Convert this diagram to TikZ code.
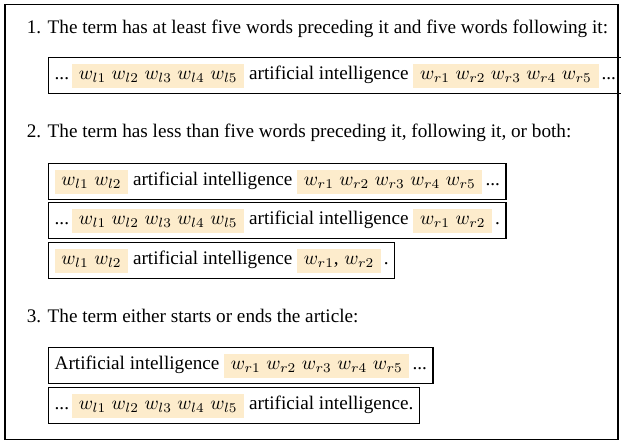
\documentclass[tikz,border=0pt]{standalone}
\usepackage{fontspec}
\setmainfont{Liberation Serif}
\usepackage{xcolor}
\definecolor{hlc}{RGB}{253,236,204}
\newcommand\hlbox[1]{{\setlength{\fboxsep}{0pt}\colorbox{hlc}{\rule[-4.2pt]{0pt}{12.5pt}\hspace{3.5pt}#1\hspace{3.5pt}}}}
\newcommand\ws{\hspace{2.9pt}}
\newcommand\dotsgap{\hspace{1.6pt}}
\tikzset{
  frame/.style={draw, line width=0.6pt},
  sample/.style={draw, line width=0.75pt, anchor=north west, inner xsep=3.1pt, inner ysep=3.1pt, text height=8.3pt, text depth=4.2pt},
  heading/.style={anchor=base west, inner sep=0pt},
}
\begin{document}
\begin{tikzpicture}[x=0.5208pt, y=-0.5208pt, font=\fontsize{10pt}{12pt}\selectfont]
\useasboundingbox (0,0) rectangle (621,441);
\draw[frame] (5,4.5) rectangle (618,439.5);
\node[heading] (h1) at (26.5,33.3) {1. The term has at least five words preceding it and five words following it:};
\node[sample] (b1) at (48,57) {...\dotsgap\hlbox{$w_{l1}$\ws$w_{l2}$\ws$w_{l3}$\ws$w_{l4}$\ws$w_{l5}$} artificial intelligence \hlbox{$w_{r1}$\ws$w_{r2}$\ws$w_{r3}$\ws$w_{r4}$\ws$w_{r5}$}\dotsgap...};
\node[heading] (h2) at (26.5,137.7) {2. The term has less than five words preceding it, following it, or both:};
\node[sample] (b2) at (48,163) {\hlbox{$w_{l1}$\ws$w_{l2}$} artificial intelligence \hlbox{$w_{r1}$\ws$w_{r2}$\ws$w_{r3}$\ws$w_{r4}$\ws$w_{r5}$}\dotsgap...};
\node[sample] (b3) at (48,202) {...\dotsgap\hlbox{$w_{l1}$\ws$w_{l2}$\ws$w_{l3}$\ws$w_{l4}$\ws$w_{l5}$} artificial intelligence \hlbox{$w_{r1}$\ws$w_{r2}$}\dotsgap.};
\node[sample] (b4) at (48,242) {\hlbox{$w_{l1}$\ws$w_{l2}$} artificial intelligence \hlbox{$w_{r1}$,\ws$w_{r2}$}\dotsgap.};
\node[heading] (h3) at (26.5,322.7) {3. The term either starts or ends the article:};
\node[sample] (b5) at (48,347) {Artificial intelligence \hlbox{$w_{r1}$\ws$w_{r2}$\ws$w_{r3}$\ws$w_{r4}$\ws$w_{r5}$}\dotsgap...};
\node[sample] (b6) at (48,387) {...\dotsgap\hlbox{$w_{l1}$\ws$w_{l2}$\ws$w_{l3}$\ws$w_{l4}$\ws$w_{l5}$} artificial intelligence.};
\end{tikzpicture}
\end{document}
